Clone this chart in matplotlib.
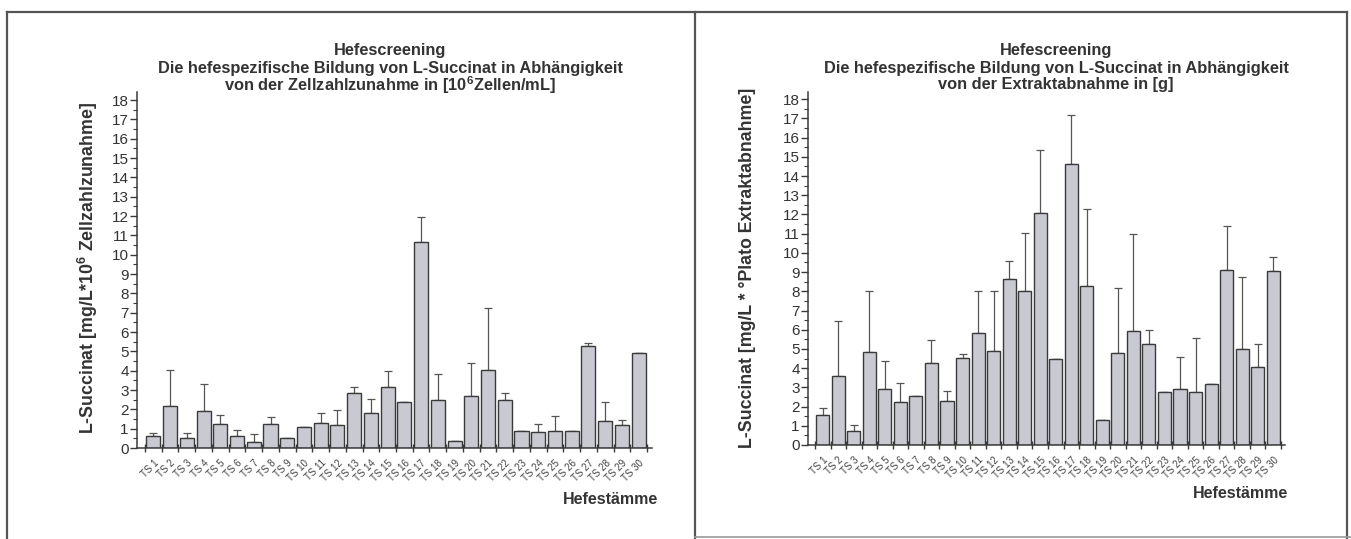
import numpy as np
import matplotlib
matplotlib.use('Agg')
import matplotlib.pyplot as plt
from matplotlib.lines import Line2D

plt.rcParams['font.family'] = ['Liberation Sans', 'DejaVu Sans']
plt.rcParams['mathtext.fontset'] = 'custom'
plt.rcParams['mathtext.rm'] = 'Liberation Sans'
plt.rcParams['mathtext.it'] = 'Liberation Sans'
plt.rcParams['mathtext.bf'] = 'Liberation Sans:bold'

# Yeast strains
strains = ['TS %d' % i for i in range(1, 31)]

# L-Succinat per cell count increase
succ_cells = [0.62, 2.16, 0.54, 1.92, 1.23, 0.62, 0.30, 1.26, 0.50, 1.09,
              1.30, 1.17, 2.87, 1.80, 3.13, 2.38, 10.67, 2.50, 0.36, 2.68,
              4.02, 2.50, 0.86, 0.83, 0.86, 0.86, 5.28, 1.38, 1.17, 4.94]
err_cells = [0.16, 1.86, 0.24, 1.41, 0.50, 0.30, 0.41, 0.33, 0.0, 0.0,
             0.50, 0.78, 0.26, 0.72, 0.87, 0.0, 1.30, 1.35, 0.0, 1.72,
             3.22, 0.35, 0.0, 0.43, 0.78, 0.0, 0.16, 1.00, 0.26, 0.0]

# L-Succinat per extract decrease
succ_extract = [1.55, 3.59, 0.75, 4.83, 2.90, 2.24, 2.55, 4.29, 2.29, 4.55,
                5.82, 4.88, 8.65, 8.04, 12.10, 4.47, 14.65, 8.27, 1.28, 4.77,
                5.94, 5.26, 2.76, 2.94, 2.76, 3.15, 9.09, 5.00, 4.07, 9.06]
err_extract = [0.36, 2.85, 0.29, 3.21, 1.48, 1.01, 0.0, 1.18, 0.52, 0.19,
               2.18, 3.12, 0.95, 2.98, 3.28, 0.0, 2.54, 4.02, 0.0, 3.38,
               5.04, 0.74, 0.0, 1.66, 2.83, 0.0, 2.29, 3.76, 1.19, 0.70]

bar_color = '#c9c9d2'
edge_color = '#3a3a3a'
text_color = '#333333'

W, H = 1351, 539
fig = plt.figure(figsize=(W / 100, H / 100), dpi=100)


def draw_panel(rect, values, errs, xlim, title3, ylabel, ylabel_x, title_x, xlabel_xy):
    ax = fig.add_axes(rect)
    x = np.arange(1, len(values) + 1)
    ax.bar(x, values, width=0.84, color=bar_color, edgecolor=edge_color,
           linewidth=1.0, zorder=2)
    lower = np.zeros(len(errs))
    ax.errorbar(x, values, yerr=[lower, errs], fmt='none', ecolor='#555555',
                elinewidth=0.9, capsize=3, capthick=0.9, zorder=1)
    ax.set_xlim(*xlim)
    ax.set_ylim(0, 18.4)

    for s in ['top', 'right']:
        ax.spines[s].set_visible(False)
    for s in ['left', 'bottom']:
        ax.spines[s].set_color(edge_color)
        ax.spines[s].set_linewidth(1.1)

    ax.set_yticks(np.arange(0, 19, 1))
    ax.set_yticks(np.arange(0.5, 18, 1), minor=True)
    ax.tick_params(axis='y', which='major', direction='out', length=5,
                   width=1, color=edge_color, labelsize=11,
                   labelcolor=text_color, pad=1)
    ax.tick_params(axis='y', which='minor', direction='out', length=3,
                   width=0.8, color=edge_color)

    # labels at bar centres, ticks at bar boundaries
    ax.set_xticks(x)
    ax.set_xticklabels(strains, rotation=45, ha='right', va='top',
                       rotation_mode='anchor', fontsize=7, color='#444444')
    ax.set_xticks(np.arange(0.5, len(values) + 1, 1), minor=True)
    ax.tick_params(axis='x', which='major', length=0, pad=7)
    ax.tick_params(axis='x', which='minor', direction='inout', length=6,
                   width=1, color=edge_color)

    fig.text(title_x / W, 1 - 51 / H, 'Hefescreening', ha='center', va='center',
             fontsize=11.8, fontweight='bold', color=text_color)
    fig.text(title_x / W, 1 - 68 / H,
             'Die hefespezifische Bildung von L-Succinat in Abhängigkeit',
             ha='center', va='center', fontsize=11.8, fontweight='bold',
             color=text_color)
    fig.text(title_x / W, 1 - 85 / H, title3, ha='center', va='center',
             fontsize=11.8, fontweight='bold', color=text_color)
    fig.text(ylabel_x / W, 1 - 268 / H, ylabel, rotation=90, ha='center',
             va='center', fontsize=12.8, fontweight='bold', color=text_color)
    fig.text(xlabel_xy[0] / W, 1 - xlabel_xy[1] / H, 'Hefestämme', ha='right',
             va='center', fontsize=11.5, fontweight='bold', color=text_color)
    return ax


draw_panel([137 / W, 91 / H, 515 / W, 355.7 / H], succ_cells, err_cells,
           (0.02, 30.8), r'von der Zellzahlzunahme in [10$\mathbf{^6}$Zellen/mL]',
           r'L-Succinat [mg/L*10$\mathbf{^6}$ Zellzahlzunahme]', 88, 390, (658, 500))

draw_panel([808 / W, 94 / H, 477 / W, 353.5 / H], succ_extract, err_extract,
           (0.05, 30.76), 'von der Extraktabnahme in [g]',
           'L-Succinat [mg/L * °Plato Extraktabnahme]', 748, 1056, (1288, 493))

# panel frames
frame_kw = dict(color='#555555', linewidth=1.6, transform=fig.transFigure)
fig.add_artist(Line2D([7 / W, 1347 / W], [1 - 12 / H, 1 - 12 / H], **frame_kw))
fig.add_artist(Line2D([7 / W, 7 / W], [0, 1 - 12 / H], **frame_kw))
fig.add_artist(Line2D([695 / W, 695 / W], [0, 1 - 12 / H], **frame_kw))
fig.add_artist(Line2D([1347 / W, 1347 / W], [0, 1 - 12 / H], **frame_kw))
fig.add_artist(Line2D([695 / W, 1351 / W], [1 - 537 / H, 1 - 537 / H],
                      color='#999999', linewidth=1.2, transform=fig.transFigure))

fig.savefig('out.png', dpi=100)
